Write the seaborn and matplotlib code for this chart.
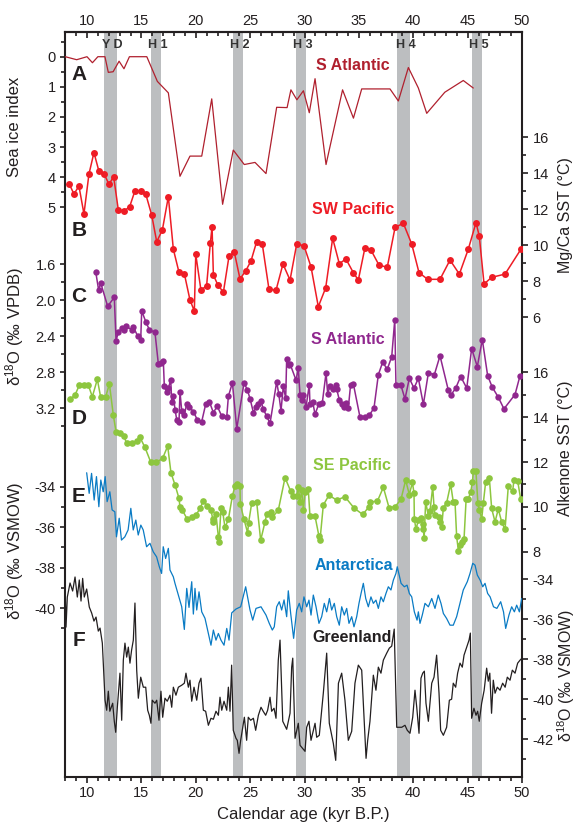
import matplotlib
matplotlib.use('Agg')
import matplotlib.pyplot as plt
import seaborn as sns
import pandas as pd

# ---------------- data ----------------
ice_age = [8.0, 9.05, 10.0, 10.5, 11.0, 11.65, 11.96, 12.4, 12.95, 13.4, 13.9, 15.5, 16.47, 17.48,
           18.55, 19.47, 20.55, 21.47, 22.47, 23.45, 24.46, 25.45, 26.46, 27.44, 28.4, 28.75, 29.3,
           29.9, 30.44, 30.97, 31.98, 33.5, 34.5, 35.26, 37.86, 38.63, 39.55, 40.47, 41.24, 42.9,
           44.6, 45.52]
ice_val = [0, 0.1, 0, 0.2, 0, 0, 0.52, 0.5, 0.15, 0.4, 0, 0, 0.82, 1.2, 3.97, 3.3, 3.3, 1.4, 4.9,
           3.1, 3.58, 3.51, 3.88, 1.68, 1.69, 1.1, 1.43, 1.13, 1.86, 0.73, 3.58, 1.1, 2.04, 1.07,
           1.07, 1.47, 0.36, 1.04, 1.88, 1.18, 0.79, 1.04]

swp_age = [8.38, 8.8, 9.26, 9.72, 10.18, 10.64, 11.1, 11.56, 12.02, 12.45, 12.88, 13.4, 13.92, 14.41,
           14.94, 15.4, 15.95, 16.41, 16.93, 17.48, 17.94, 18.46, 18.95, 19.47, 19.87, 20.0, 20.48,
           21.0, 21.34, 21.5, 21.62, 22.02, 22.54, 23.06, 23.55, 24.07, 24.6, 25.08, 25.6, 26.12,
           26.73, 27.38, 28.02, 28.67, 29.28, 29.95, 30.6, 31.27, 31.95, 32.59, 33.2, 33.81, 34.49,
           34.95, 35.56, 36.11, 36.85, 37.61, 38.33, 39.09, 39.86, 40.53, 41.33, 42.46, 43.38,
           44.24, 45.06, 45.77, 46.07, 46.51, 47.21, 48.44, 49.9]
swp_sst = [13.39, 12.85, 13.29, 11.74, 13.96, 15.15, 14.11, 13.98, 13.39, 13.81, 11.96, 11.9, 12.14,
           13.03, 13.03, 12.85, 11.68, 10.2, 10.85, 12.7, 9.78, 8.5, 8.42, 6.96, 6.35, 9.5, 7.5,
           7.76, 10.11, 11.03, 8.35, 7.81, 7.39, 9.4, 9.61, 8.13, 8.59, 9.13, 10.2, 10.06, 7.57,
           7.5, 8.96, 8.07, 10.06, 9.98, 8.8, 6.59, 7.64, 10.39, 8.98, 9.24, 8.48, 8.07, 9.87, 9.74,
           8.9, 8.78, 11.0, 11.22, 10.07, 8.48, 8.11, 8.11, 9.18, 8.4, 9.78, 11.26, 10.52, 7.85,
           8.22, 8.4, 9.78]

sat_age = [10.8, 11.07, 11.26, 11.9, 12.51, 12.67, 12.88, 13.19, 13.4, 13.59, 14.1, 14.26, 14.66,
           14.94, 15.03, 15.4, 15.73, 16.25, 16.56, 16.8, 17.02, 17.11, 17.33, 17.48, 17.7, 17.79,
           17.94, 18.1, 18.25, 18.46, 18.55, 18.71, 18.95, 19.17, 19.41, 19.78, 20.14, 20.55, 20.91,
           21.25, 21.62, 21.98, 22.39, 22.85, 23.0, 23.37, 23.77, 24.44, 24.75, 25.0, 25.3, 25.55,
           25.76, 26.0, 26.2, 26.52, 26.83, 27.44, 27.63, 27.84, 28.05, 28.27, 28.36, 28.55, 28.67,
           29.22, 29.43, 29.59, 29.74, 29.9, 30.14, 30.44, 30.5, 30.75, 30.97, 31.33, 31.64, 31.98,
           32.13, 32.34, 32.65, 32.87, 32.96, 33.2, 33.42, 33.63, 33.81, 34.03, 34.24, 34.49, 35.1,
           35.56, 35.96, 36.39, 36.79, 37.19, 37.61, 38.02, 38.3, 38.41, 38.85, 39.24, 39.64, 40.07,
           40.47, 40.93, 41.39, 41.94, 42.46, 43.22, 43.44, 43.9, 44.36, 44.92, 45.37, 45.89, 46.35,
           46.84, 47.27, 47.82, 48.34, 49.36, 49.82]
sat_d18o = [1.685, 1.89, 1.81, 2.07, 1.97, 2.45, 2.36, 2.31, 2.33, 2.29, 2.33, 2.30, 2.40, 2.44, 2.12,
            2.24, 2.33, 2.36, 2.71, 2.70, 2.68, 2.96, 3.02, 2.98, 2.89, 3.13, 3.07, 3.22, 3.33, 3.36,
            3.02, 3.23, 3.28, 3.15, 3.19, 3.24, 3.33, 3.35, 3.16, 3.13, 3.25, 3.18, 3.29, 3.30, 3.07,
            2.92, 3.43, 2.92, 3.00, 3.10, 3.25, 3.19, 3.15, 3.12, 3.21, 3.29, 3.37, 2.91, 3.04, 3.23,
            2.96, 3.09, 2.66, 2.72, 2.71, 2.89, 2.76, 3.06, 3.11, 3.05, 3.19, 2.94, 3.15, 3.13, 3.27,
            3.15, 3.14, 2.81, 3.04, 2.96, 2.99, 2.94, 2.99, 3.11, 3.16, 3.19, 3.14, 3.20, 2.94, 2.93,
            3.30, 3.30, 3.28, 3.20, 2.83, 2.69, 2.77, 2.63, 2.22, 2.94, 2.94, 3.10, 2.87, 2.98, 2.87,
            3.16, 2.81, 2.83, 2.62, 3.00, 3.06, 2.98, 2.85, 2.98, 2.54, 2.74, 2.44, 2.84, 2.97, 3.08,
            3.21, 3.05, 2.84]

sep_age = [8.44, 8.9, 9.29, 9.72, 10.12, 10.49, 10.95, 11.26, 11.72, 12.06, 12.42, 12.67, 13.03, 13.4,
           13.64, 14.17, 14.57, 14.87, 15.33, 15.85, 16.35, 16.95, 17.42, 17.72, 18.1, 18.46, 18.55,
           18.77, 19.23, 19.62, 20.02, 20.39, 20.7, 21.06, 21.4, 21.56, 21.62, 21.86, 22.08, 22.14,
           22.32, 22.48, 22.69, 23.0, 23.37, 23.61, 23.77, 24.07, 24.1, 24.44, 24.77, 24.86, 25.14,
           25.6, 25.97, 26.37, 26.52, 26.89, 27.04, 27.59, 28.21, 28.73, 28.97, 29.28, 29.43, 29.59,
           29.74, 29.9, 30.05, 30.35, 30.5, 30.97, 31.33, 31.43, 31.73, 32.25, 32.96, 33.72, 34.55,
           35.35, 35.93, 36.02, 36.7, 37.25, 37.77, 38.32, 38.87, 39.3, 39.64, 39.92, 40.07, 40.1,
           40.25, 40.47, 40.71, 40.87, 40.93, 41.0, 41.14, 41.39, 41.54, 41.79, 41.91, 42.0, 42.37,
           42.46, 42.62, 42.77, 43.07, 43.44, 43.68, 43.84, 43.99, 44.15, 44.31, 44.46, 44.67, 44.86,
           45.07, 45.29, 45.44, 45.54, 45.76, 45.94, 46.07, 46.3, 46.44, 46.66, 47.0, 47.21, 47.52,
           47.82, 48.13, 48.44, 48.74, 49.14, 49.26, 49.6, 49.87]
sep_sst = [14.79, 14.99, 15.42, 15.43, 15.43, 14.91, 15.69, 14.88, 14.91, 15.48, 14.09, 13.35, 13.28,
           13.16, 12.83, 12.86, 12.93, 13.10, 12.65, 12.01, 11.98, 12.16, 12.71, 11.52, 10.97, 10.38,
           10.0, 9.85, 9.44, 9.53, 9.63, 9.93, 10.27, 10.03, 9.85, 9.48, 9.33, 9.67, 8.66, 8.44, 9.93,
           9.78, 9.08, 9.44, 10.49, 10.92, 11.01, 10.92, 10.11, 9.44, 8.84, 9.29, 10.15, 10.22, 8.51,
           9.33, 9.66, 9.78, 9.53, 9.85, 11.3, 10.7, 10.49, 10.5, 10.87, 10.22, 10.75, 9.88, 10.67,
           10.78, 9.6, 9.58, 8.69, 8.54, 10.08, 10.52, 10.3, 10.45, 9.95, 9.66, 10.0, 10.22, 10.25,
           10.87, 9.97, 10.0, 10.33, 11.19, 10.55, 11.09, 10.62, 9.48, 8.99, 9.41, 9.51, 9.23, 8.99,
           8.59, 10.22, 9.6, 9.82, 10.89, 10.0, 9.63, 9.53, 9.33, 9.11, 9.97, 10.18, 11.01, 10.22,
           10.22, 8.69, 8.04, 8.29, 8.44, 8.56, 10.33, 10.37, 10.67, 11.12, 11.61, 11.61, 10.18, 9.85,
           9.48, 10.15, 11.12, 11.27, 9.93, 9.33, 9.9, 9.33, 8.99, 10.92, 10.7, 11.19, 11.16, 10.37]

ant_age = [9.97, 10.2, 10.42, 10.66, 10.87, 11.09, 11.27, 11.49, 11.67, 11.85, 12.1, 12.31, 12.56,
           12.71, 12.96, 13.17, 13.48, 13.78, 14.03, 14.25, 14.49, 14.71, 14.95, 15.17, 15.48, 15.79,
           16.09, 16.4, 16.65, 16.86, 17.01, 17.23, 17.48, 17.63, 17.94, 18.09, 18.4, 18.71, 18.95,
           19.17, 19.38, 19.63, 19.78, 19.93, 20.09, 20.3, 20.55, 20.85, 21.16, 21.4, 21.62, 21.86,
           22.08, 22.32, 22.6, 22.85, 23.06, 23.31, 23.7, 24.13, 24.59, 24.99, 25.24, 25.54, 26.0,
           26.46, 26.76, 27.04, 27.22, 27.44, 27.68, 27.9, 28.12, 28.36, 28.51, 28.73, 29.0, 29.28,
           29.52, 29.74, 29.95, 30.2, 30.41, 30.6, 30.81, 31.06, 31.33, 31.58, 31.82, 32.04, 32.29,
           32.5, 32.74, 32.96, 33.2, 33.42, 33.66, 33.88, 34.09, 34.34, 34.55, 34.8, 35.01, 35.2,
           35.41, 35.63, 35.87, 36.11, 36.33, 36.57, 36.79, 37.03, 37.25, 37.49, 37.71, 37.95, 38.17,
           38.41, 38.53, 38.88, 39.18, 39.43, 39.64, 39.86, 40.1, 40.35, 40.47, 40.62, 40.83, 41.08,
           41.39, 41.7, 42.0, 42.3, 42.55, 42.77, 43.07, 43.38, 43.68, 43.99, 44.3, 44.6, 44.97,
           45.22, 45.47, 45.68, 45.89, 46.15, 46.39, 46.6, 46.84, 47.07, 47.38, 47.69, 48.04, 48.3,
           48.5, 48.8, 49.05, 49.3, 49.51, 49.76, 49.97]
ant_d18o = [-33.31, -34.33, -33.34, -34.66, -33.5, -34.99, -33.67, -34.25, -33.5, -34.74, -34.25,
            -35.15, -35.24, -36.48, -35.56, -36.64, -36.48, -36.14, -35.07, -36.14, -35.65, -36.39,
            -35.9, -36.14, -36.97, -36.8, -37.22, -37.47, -37.96, -38.29, -36.97, -37.55, -37.05,
            -38.12, -38.46, -38.78, -39.36, -39.94, -41.06, -39.03, -39.97, -38.7, -40.3, -39.03,
            -40.1, -39.2, -40.19, -40.51, -41.26, -41.84, -41.09, -41.59, -41.26, -41.59, -41.84,
            -41.01, -41.59, -40.24, -40.05, -39.94, -38.95, -40.1, -40.6, -40.02, -39.94, -40.35,
            -40.76, -41.09, -40.93, -39.94, -39.69, -40.1, -39.6, -40.43, -39.15, -40.27, -41.5,
            -40.1, -39.77, -40.19, -39.45, -39.94, -39.61, -40.35, -39.36, -39.94, -40.76, -40.43,
            -39.77, -40.19, -39.53, -40.1, -39.77, -40.43, -40.85, -39.94, -40.35, -40.02, -40.76,
            -40.43, -40.93, -40.43, -39.77, -39.28, -38.78, -39.53, -39.94, -39.45, -39.77, -39.61,
            -40.02, -39.45, -39.69, -39.28, -38.95, -39.11, -38.62, -38.29, -37.96, -38.78, -38.95,
            -38.87, -39.28, -39.45, -40.19, -40.6, -40.19, -40.76, -40.35, -39.77, -39.94, -39.53,
            -40.02, -39.36, -39.77, -40.27, -40.52, -40.85, -40.85, -40.43, -39.77, -39.11, -38.7,
            -38.29, -37.79, -37.88, -38.37, -38.62, -38.95, -38.78, -39.28, -39.45, -39.94, -40.02,
            -39.69, -40.19, -41.01, -40.35, -39.94, -40.19, -39.86, -40.19, -39.53]

grl_age = [8.0, 8.07, 8.19, 8.44, 8.68, 8.9, 9.11, 9.29, 9.45, 9.6, 9.75, 9.97, 10.21, 10.43, 10.64,
           10.83, 11.04, 11.2, 11.41, 11.5, 11.66, 11.81, 11.96, 12.1, 12.36, 12.51, 12.64, 12.79,
           13.03, 13.19, 13.34, 13.49, 13.65, 13.8, 13.95, 14.1, 14.26, 14.41, 14.57, 14.72, 14.94,
           15.18, 15.4, 15.58, 15.73, 15.88, 16.0, 16.25, 16.41, 16.62, 16.8, 16.96, 17.17, 17.38,
           17.63, 17.79, 17.94, 18.18, 18.4, 18.71, 18.95, 19.1, 19.32, 19.47, 19.63, 19.84, 20.09,
           20.3, 20.48, 20.7, 20.91, 21.16, 21.4, 21.62, 21.86, 22.08, 22.23, 22.39, 22.6, 22.85,
           23.0, 23.15, 23.3, 23.45, 23.7, 23.82, 23.98, 24.13, 24.28, 24.47, 24.68, 24.83, 25.05,
           25.3, 25.51, 25.76, 26.0, 26.2, 26.43, 26.61, 26.83, 26.98, 27.2, 27.38, 27.59, 27.75,
           28.0, 28.36, 28.67, 28.82, 28.92, 29.13, 29.43, 29.59, 30.05, 30.2, 30.41, 30.6, 30.75,
           30.97, 31.12, 31.36, 31.73, 32.04, 32.28, 32.65, 32.87, 33.12, 33.42, 33.72, 34.03, 34.34,
           34.64, 34.95, 35.26, 35.66, 35.81, 36.02, 36.33, 36.57, 36.79, 37.03, 37.25, 37.56, 37.8,
           38.02, 38.25, 38.48, 38.94, 39.24, 39.45, 39.7, 39.95, 40.16, 40.32, 40.53, 40.71, 40.87,
           41.02, 41.17, 41.39, 41.7, 41.91, 42.15, 42.37, 42.52, 42.77, 43.07, 43.32, 43.53, 43.68,
           43.9, 44.08, 44.3, 44.51, 44.67, 44.92, 45.13, 45.25, 45.37, 45.58, 45.77, 45.92, 46.07,
           46.29, 46.52, 46.75, 46.9, 47.04, 47.2, 47.36, 47.52, 47.73, 47.98, 48.22, 48.45, 48.65,
           48.9, 49.11, 49.36, 49.6, 49.82, 50.0]
grl_d18o = [-34.55, -36.4, -34.9, -34.2, -34.6, -33.9, -34.9, -34.05, -35.1, -33.97, -34.9, -34.5,
            -35.4, -35.7, -36.1, -35.9, -36.6, -36.45, -37.2, -38.2, -40.05, -40.55, -39.6, -40.6,
            -40.2, -41.1, -41.65, -40.4, -38.7, -41.05, -38.05, -37.2, -37.9, -37.4, -38.2, -37.55,
            -37.05, -35.2, -38.55, -39.95, -38.9, -39.4, -39.4, -40.55, -40.8, -41.2, -40.05, -40.2,
            -40.05, -41.05, -39.6, -40.9, -39.95, -40.1, -39.8, -40.4, -39.4, -39.8, -39.4, -39.3,
            -39.2, -38.7, -39.4, -39.05, -40.1, -39.4, -40.05, -39.2, -38.95, -40.55, -40.6, -41.3,
            -40.95, -41.0, -40.6, -40.8, -39.9, -40.55, -40.1, -40.55, -39.4, -40.6, -38.3, -41.55,
            -41.95, -42.05, -42.7, -42.05, -41.55, -40.9, -42.05, -40.9, -41.05, -40.95, -41.55,
            -40.8, -40.4, -40.6, -40.8, -40.55, -39.9, -40.6, -40.45, -40.95, -38.05, -37.05, -41.1,
            -41.5, -40.7, -38.4, -37.95, -41.95, -41.2, -42.3, -42.6, -41.4, -41.1, -42.05, -41.7,
            -41.2, -41.9, -41.8, -39.7, -37.7, -41.2, -42.2, -43.05, -39.2, -38.7, -40.05, -42.05,
            -41.6, -39.2, -38.3, -38.55, -42.95, -42.05, -41.1, -38.8, -39.55, -38.4, -38.7, -38.05,
            -37.7, -37.45, -37.35, -36.5, -41.4, -41.4, -41.3, -41.55, -41.7, -40.9, -39.55, -40.4,
            -41.7, -38.95, -38.7, -38.6, -40.2, -41.1, -39.2, -38.9, -37.8, -39.7, -41.55, -41.8,
            -41.4, -40.05, -40.0, -39.2, -39.4, -38.7, -38.2, -38.4, -37.8, -37.4, -37.05, -36.7,
            -40.95, -40.45, -40.8, -40.6, -41.1, -40.2, -39.55, -38.45, -39.1, -38.7, -40.7, -39.05,
            -39.7, -39.4, -39.55, -39.2, -39.4, -38.9, -39.05, -38.55, -38.7, -38.2, -38.05, -37.95]

band_names = ['Y D', 'H 1', 'H 2', 'H 3', 'H 4', 'H 5']
band_start = [11.56, 15.88, 23.4, 29.2, 38.5, 45.4]
band_end = [12.73, 16.80, 24.3, 30.14, 39.7, 46.3]

x_major = [10, 15, 20, 25, 30, 35, 40, 45, 50]

# ---------------- style ----------------
sns.set_style('white')
plt.rcParams['font.family'] = ['Liberation Sans', 'DejaVu Sans']
plt.rcParams['mathtext.fontset'] = 'custom'
plt.rcParams['mathtext.rm'] = 'Liberation Sans'
plt.rcParams['mathtext.it'] = 'Liberation Sans:italic'
plt.rcParams['mathtext.bf'] = 'Liberation Sans:bold'
plt.rcParams['axes.unicode_minus'] = False

W, H = 575, 825
L, T, R, B = 65.25, 32.0, 522.0, 776.7
fig = plt.figure(figsize=(W / 100, H / 100), dpi=100)
rect = [L / W, 1 - B / H, (R - L) / W, (B - T) / H]
TXT = '#231f20'

host = fig.add_axes(rect)
host.set_xlim(8, 50)
host.set_ylim(0, 1)
host.set_yticks([])
for s in host.spines.values():
    s.set_linewidth(1.5)
    s.set_color(TXT)
    s.set_visible(True)
host.set_xticks(x_major)
host.set_xticks(range(8, 51), minor=True)
host.tick_params(axis='x', which='both', direction='out', bottom=True, top=False,
                 width=1.2, color=TXT, labelsize=10.5, labelcolor=TXT, pad=3)
host.tick_params(axis='x', which='major', length=4)
host.tick_params(axis='x', which='minor', length=3)
sec = host.secondary_xaxis('top')
sec.set_xticks(x_major)
sec.set_xticks(range(8, 51), minor=True)
sec.tick_params(axis='x', which='both', direction='in', width=1.2, color=TXT,
                labelsize=10.5, labelcolor=TXT, pad=3)
sec.tick_params(axis='x', which='major', length=4)
sec.tick_params(axis='x', which='minor', length=3)
sec.spines['top'].set_linewidth(1.5)

for nm, a, b in zip(band_names, band_start, band_end):
    host.axvspan(a, b, color='#bcbec0', lw=0, zorder=0)
    host.text((a + b) / 2 + 0.2, 1 - (45 - T) / (B - T), nm, ha='center', va='center',
              fontsize=9, fontweight='bold', color='#333333', transform=host.transData)


def overlay(v1, p1, v2, p2, side, majors, minors, fmt, tick_major_len):
    ax = fig.add_axes(rect)
    ax.patch.set_visible(False)
    for s in ax.spines.values():
        s.set_visible(False)
    ax.set_xlim(8, 50)
    slope = (p2 - p1) / (v2 - v1)
    ax.set_ylim(v1 + (B - p1) / slope, v1 + (T - p1) / slope)
    ax.tick_params(axis='x', which='both', bottom=False, top=False, labelbottom=False)
    if side == 'right':
        ax.yaxis.tick_right()
    else:
        ax.yaxis.tick_left()
    ax.set_yticks(majors)
    ax.set_yticklabels([fmt.format(m) for m in majors])
    ax.set_yticks(minors, minor=True)
    ax.tick_params(axis='y', which='both', direction='out', width=1.2, color=TXT,
                   labelsize=10.5, labelcolor=TXT, pad=3)
    ax.tick_params(axis='y', which='major', length=tick_major_len)
    ax.tick_params(axis='y', which='minor', length=2.8)
    return ax


anchors = {
    'A': (0, 56.7, 5, 207.3),
    'B': (16, 137.3, 6, 317.3),
    'C': (1.6, 264, 3.2, 408),
    'D': (16, 372.3, 8, 551.7),
    'E': (-34, 486.7, -40, 608),
    'F': (-34, 579, -42, 739.3),
}

axA = overlay(*anchors['A'], 'left', [0, 1, 2, 3, 4, 5], [-0.5, 0.5, 1.5, 2.5, 3.5, 4.5], '{:d}', 3.8)
axB = overlay(*anchors['B'], 'right', [6, 8, 10, 12, 14, 16], [7, 9, 11, 13, 15], '{:d}', 4.5)
axC = overlay(*anchors['C'], 'left', [1.6, 2.0, 2.4, 2.8, 3.2], [1.8, 2.2, 2.6, 3.0, 3.4], '{:.1f}', 3.8)
axD = overlay(*anchors['D'], 'right', [8, 10, 12, 14, 16], [9, 11, 13, 15], '{:d}', 4.5)
axE = overlay(*anchors['E'], 'left', [-40, -38, -36, -34], [-41, -39, -37, -35], '{:d}', 3.8)
axF = overlay(*anchors['F'], 'right', [-42, -40, -38, -36, -34], [-43, -41, -39, -37, -35], '{:d}', 4.5)

sns.lineplot(x=ice_age, y=ice_val, ax=axA, color='#b0202e', lw=0.9, estimator=None, sort=False)
sns.lineplot(x=swp_age, y=swp_sst, ax=axB, color='#ee1c25', lw=1.1, marker='o', markersize=5,
             markeredgewidth=0, estimator=None, sort=False)
sns.lineplot(x=sat_age, y=sat_d18o, ax=axC, color='#90278e', lw=1.1, marker='o', markersize=4.6,
             markeredgewidth=0, estimator=None, sort=False)
sns.lineplot(x=sep_age, y=sep_sst, ax=axD, color='#8dc63f', lw=1.1, marker='o', markersize=4.8,
             markeredgewidth=0, estimator=None, sort=False)
sns.lineplot(x=ant_age, y=ant_d18o, ax=axE, color='#0a7bc4', lw=0.9, estimator=None, sort=False)
sns.lineplot(x=grl_age, y=grl_d18o, ax=axF, color='#231f20', lw=0.9, estimator=None, sort=False)

for ax, key in zip([axA, axB, axC, axD, axE, axF], 'ABCDEF'):
    v1, p1, v2, p2 = anchors[key]
    slope = (p2 - p1) / (v2 - v1)
    ax.set_ylim(v1 + (B - p1) / slope, v1 + (T - p1) / slope)
    ax.set_xlim(8, 50)
    ax.set_xlabel('')
    ax.set_ylabel('')


def ftext(px, py, s, **kw):
    fig.text(px / W, 1 - py / H, s, **kw)


for letter, py in zip('ABCDEF', [75, 230, 297, 418, 496, 640]):
    ftext(79, py, letter, ha='center', va='center', fontsize=15, fontweight='bold', color=TXT)

ftext(353, 66, 'S Atlantic', ha='center', va='center', fontsize=11.5, fontweight='bold', color='#b0202e')
ftext(353, 210, 'SW Pacific', ha='center', va='center', fontsize=11.5, fontweight='bold', color='#ee1c25')
ftext(348, 340, 'S Atlantic', ha='center', va='center', fontsize=11.5, fontweight='bold', color='#90278e')
ftext(352, 466, 'SE Pacific', ha='center', va='center', fontsize=11.5, fontweight='bold', color='#8dc63f')
ftext(354, 566, 'Antarctica', ha='center', va='center', fontsize=11.5, fontweight='bold', color='#0a7bc4')
ftext(352, 638, 'Greenland', ha='center', va='center', fontsize=11.5, fontweight='bold', color=TXT)

ftext(14.5, 127, 'Sea ice index', rotation=90, ha='center', va='center', fontsize=12, color=TXT)
ftext(14.5, 327, 'δ$^{18}$O (‰ VPDB)', rotation=90, ha='center', va='center', fontsize=12, color=TXT)
ftext(14.5, 551, 'δ$^{18}$O (‰ VSMOW)', rotation=90, ha='center', va='center', fontsize=12, color=TXT)
ftext(558, 215, 'Mg/Ca SST (°C)', rotation=90, ha='left', va='center', fontsize=11.5, color=TXT)
ftext(558, 448, 'Alkenone SST (°C)', rotation=90, ha='left', va='center', fontsize=11.5, color=TXT)
ftext(555, 675, 'δ$^{18}$O (‰ VSMOW)', rotation=90, ha='left', va='center', fontsize=11.5, color=TXT)
ftext(303, 815, 'Calendar age (kyr B.P.)', ha='center', va='center', fontsize=12, color=TXT)

fig.savefig('out.png', dpi=100)
